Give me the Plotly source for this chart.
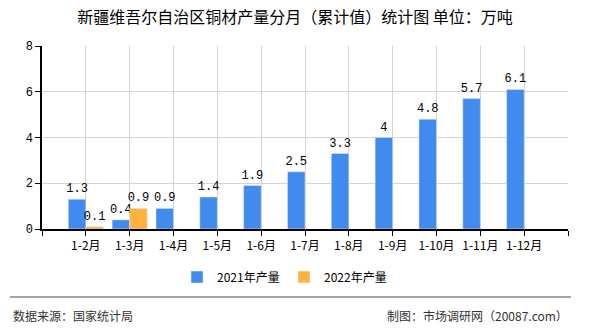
import plotly.graph_objects as go

categories = ["1-2月", "1-3月", "1-4月", "1-5月", "1-6月", "1-7月", "1-8月", "1-9月", "1-10月", "1-11月", "1-12月"]
values_2021 = [1.3, 0.4, 0.9, 1.4, 1.9, 2.5, 3.3, 4, 4.8, 5.7, 6.1]
values_2022 = [0.1, 0.9, None, None, None, None, None, None, None, None, None]
y_ticks = [0, 2, 4, 6, 8]

idx = list(range(len(categories)))
tickvals = [-1] + idx + [len(categories)]
ticktext = [""] + categories + [""]

font_cjk = "Noto Sans CJK SC"
label_font = dict(family="Liberation Mono", size=12, color="#000")

fig = go.Figure()
fig.add_trace(go.Bar(
    x=idx, y=values_2021, name="2021年产量", marker_color="#418BEF",
    text=[str(v) for v in values_2021], textposition="outside",
    textfont=label_font, constraintext="none", cliponaxis=False,
))
fig.add_trace(go.Bar(
    x=idx, y=values_2022, name="2022年产量", marker_color="#FDB241",
    text=[("" if v is None else str(v)) for v in values_2022], textposition="outside",
    textfont=label_font, constraintext="none", cliponaxis=False,
))

fig.update_layout(
    width=590, height=330,
    margin=dict(l=42, r=22, t=46, b=101),
    paper_bgcolor="white", plot_bgcolor="white",
    barmode="group", bargap=0.2, bargroupgap=0,
    font=dict(family=font_cjk, size=12, color="#000"),
    title=dict(text="新疆维吾尔自治区铜材产量分月（累计值）统计图 单位：万吨",
               x=0.5, xref="container", xanchor="center", y=1 - 17/330, yanchor="middle",
               font=dict(family=font_cjk, size=16, color="#000")),
    showlegend=True,
    legend=dict(orientation="h", x=(177 - 42) / 526, xanchor="left", y=-(277 - 229) / 183, yanchor="middle",
                font=dict(family=font_cjk, size=12, color="#000"), itemwidth=30,
                entrywidth=62, entrywidthmode="pixels",
                bgcolor="rgba(0,0,0,0)"),
)
fig.update_xaxes(
    range=[-1, len(categories)], tickvals=tickvals, ticktext=ticktext,
    showline=True, linecolor="#000", linewidth=1.5,
    ticks="outside", ticklen=5, tickcolor="#000",
    showgrid=True, gridcolor="#D3D3D3", gridwidth=1,
    tickfont=dict(family=font_cjk, size=12, color="#000"), zeroline=False,
)
fig.update_yaxes(
    range=[0, 8], tickvals=y_ticks,
    showline=True, linecolor="#000", linewidth=1.5,
    ticks="outside", ticklen=5, tickcolor="#000",
    showgrid=True, gridcolor="#D3D3D3", gridwidth=1, zeroline=False,
    tickfont=dict(family="Liberation Mono", size=12, color="#000"),
)
fig.add_shape(type="line", xref="paper", yref="paper",
              x0=(10 - 42) / 526, x1=(571 - 42) / 526,
              y0=-(297 - 229) / 183, y1=-(297 - 229) / 183,
              line=dict(color="#888", width=1.5))
fig.add_annotation(text="数据来源：国家统计局", xref="paper", yref="paper",
                   x=(11 - 42) / 526, xanchor="left", y=-(315 - 229) / 183, yanchor="middle",
                   showarrow=False, font=dict(family=font_cjk, size=12, color="#333"))
fig.add_annotation(text="制图：市场调研网（20087.com）", xref="paper", yref="paper",
                   x=(570 - 42) / 526, xanchor="right", y=-(315 - 229) / 183, yanchor="middle",
                   showarrow=False, font=dict(family=font_cjk, size=12, color="#333"))

fig.write_html("out.html")
